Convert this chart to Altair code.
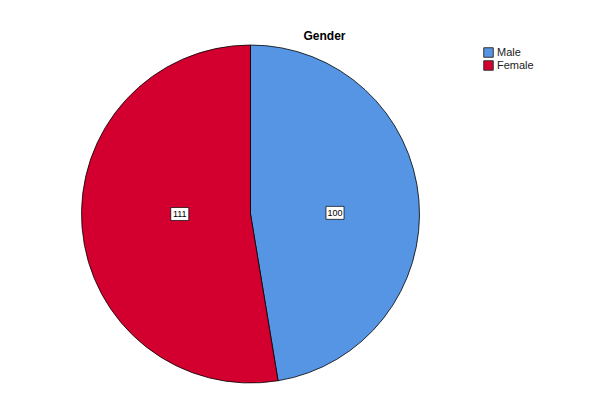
import altair as alt
import pandas as pd

categories = ["Male", "Female"]
counts = [100, 111]
colors = ["#5595E3", "#D3002F"]
order_idx = [0, 1]

df = pd.DataFrame({"gender": categories, "count": counts, "order": order_idx})

W, H = 583, 396
CX, CY, R = 242.5, 206, 169
FONT = "Liberation Sans"

base = alt.Chart(df)

pie = base.mark_arc(radius=R, stroke="#000000", strokeWidth=0.8).encode(
    theta=alt.Theta("count:Q", stack=True),
    color=alt.Color(
        "gender:N",
        scale=alt.Scale(domain=categories, range=colors),
        legend=alt.Legend(
            title=None,
            orient="none",
            legendX=475,
            legendY=39,
            symbolType="square",
            symbolSize=90,
            symbolStrokeColor="#333333",
            symbolStrokeWidth=1,
            symbolOpacity=1,
            labelFont=FONT,
            labelFontSize=11,
            labelColor="#222222",
            labelOffset=3,
            rowPadding=-6,
        ),
    ),
    order=alt.Order("order:Q"),
    x=alt.value(CX),
    y=alt.value(CY),
)

# label at the centre of each slice's bounding box (as SPSS places them)
lab = (
    base.transform_joinaggregate(total="sum(count)")
    .transform_window(cum="sum(count)", sort=[alt.SortField("order")], frame=[None, 0])
    .transform_calculate(
        a0="(datum.cum - datum.count) / datum.total * 2 * PI",
        a1="datum.cum / datum.total * 2 * PI",
    )
    .transform_calculate(
        xmax="(datum.a0 < PI/2 && datum.a1 > PI/2) ? 1 : max(0, sin(datum.a0), sin(datum.a1))",
        xmin="(datum.a0 < 3*PI/2 && datum.a1 > 3*PI/2) ? -1 : min(0, sin(datum.a0), sin(datum.a1))",
        ymax="(datum.a0 < PI && datum.a1 > PI) ? 1 : max(0, -cos(datum.a0), -cos(datum.a1))",
        ymin="min(0, -cos(datum.a0), -cos(datum.a1))",
    )
    .transform_calculate(
        lx=f"{CX} + {R} * (datum.xmin + datum.xmax) / 2",
        ly=f"{CY} + {R} * (datum.ymin + datum.ymax) / 2",
    )
)

xenc = alt.X("lx:Q", scale=alt.Scale(domain=[0, W], nice=False, zero=False), axis=None)
yenc = alt.Y("ly:Q", scale=alt.Scale(domain=[H, 0], nice=False, zero=False), axis=None)

box = lab.mark_point(
    shape="M-1,-0.72L1,-0.72L1,0.72L-1,0.72Z",
    size=324,
    filled=True,
    fill="white",
    stroke="#000000",
    strokeWidth=0.7,
    opacity=1,
).encode(x=xenc, y=yenc)

txt = lab.mark_text(font=FONT, fontSize=9, color="#000000", baseline="middle").encode(
    x=xenc, y=yenc, text="count:Q"
)

chart = (
    alt.layer(pie, box, txt)
    .properties(
        width=W,
        height=H,
        padding=0,
        autosize=alt.AutoSizeParams(type="none"),
        title=alt.TitleParams(
            "Gender",
            font=FONT,
            fontSize=12,
            fontWeight="bold",
            color="#000000",
            anchor="middle",
            dx=25,
            dy=39,
        ),
    )
    .configure_view(stroke=None)
)

chart.save("out.html", embed_options={"renderer": "svg", "actions": False})
